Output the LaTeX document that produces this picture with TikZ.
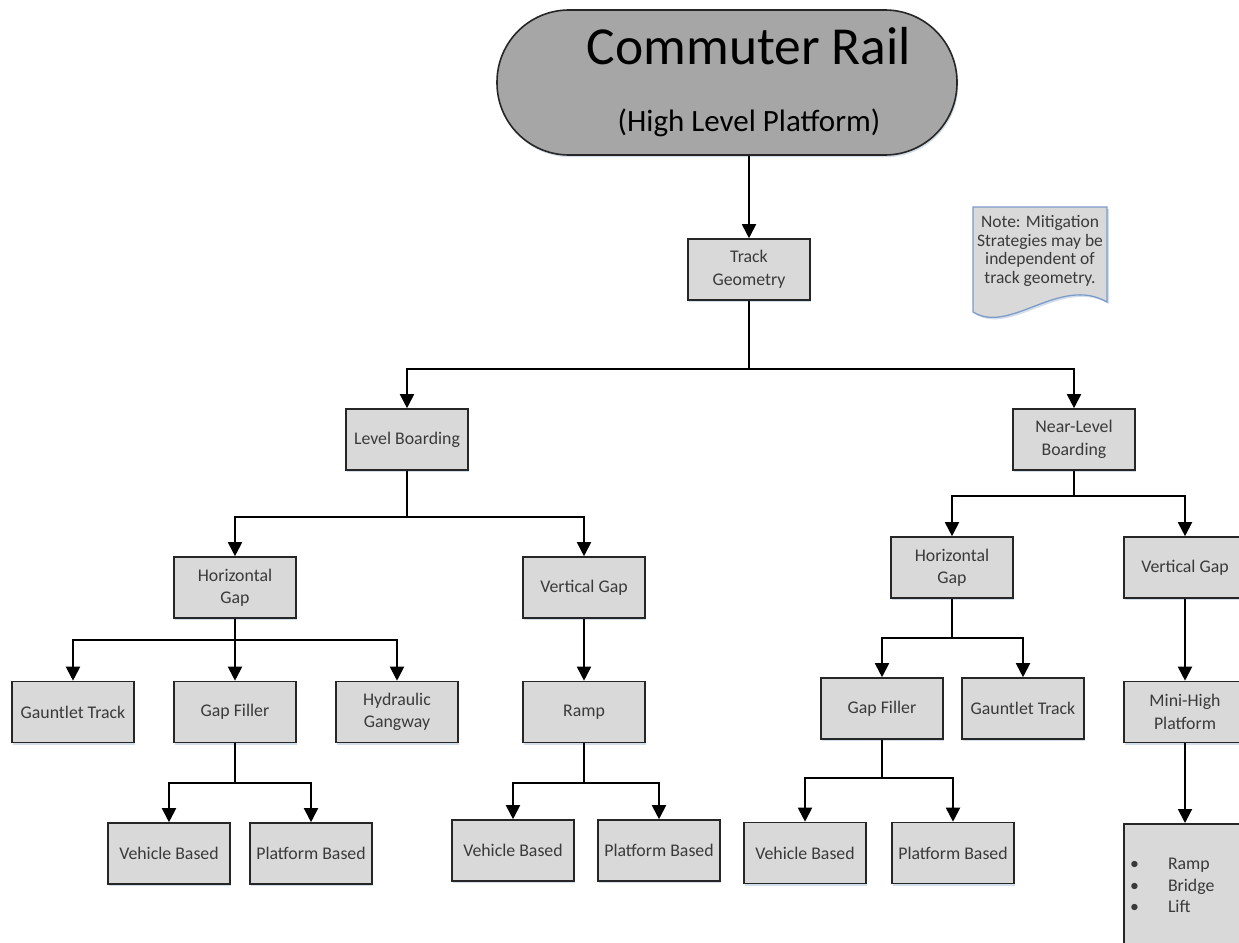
\documentclass[tikz,border=0pt]{standalone}
\usepackage{fontspec}
\setmainfont{Carlito}
\usetikzlibrary{arrows.meta,shadows}
\definecolor{boxfill}{HTML}{D9D9D9}
\definecolor{termfill}{HTML}{A6A6A6}
\definecolor{boxtext}{HTML}{3A3A3A}
\definecolor{noteedge}{HTML}{7E9CC8}
\definecolor{shadowc}{HTML}{C9D6E8}
\begin{document}
\begin{tikzpicture}[x=1pt,y=-1pt,
  box/.style={draw=black!85, line width=1.6pt, fill=boxfill, minimum width=122pt, minimum height=61pt,
    inner sep=2pt, align=center, text=boxtext, font=\fontsize{17.8}{22.5}\selectfont,
    drop shadow={shadow xshift=1.2pt, shadow yshift=-2.2pt, fill=shadowc, opacity=0.8}},
  terminal/.style={draw=black!85, line width=1.6pt, fill=termfill, minimum width=460pt, minimum height=145pt,
    rounded corners=72pt, align=center, text=black,
    drop shadow={shadow xshift=1.2pt, shadow yshift=-2.2pt, fill=shadowc, opacity=0.8}},
  arr/.style={line width=1.9pt, draw=black, -{Triangle[length=14pt,width=14pt]}},
  conn/.style={line width=1.9pt, draw=black},
  notetext/.style={align=center, text=boxtext, font=\fontsize{17.5}{18.6}\selectfont, inner sep=0pt}
]
\useasboundingbox (0,0) rectangle (1239,942);
\fill[white] (0,0) rectangle (1239,942);

% terminal
\node[terminal] (cr) at (727,82.5) {{\fontsize{53.5}{60}\selectfont\hspace*{44pt}Commuter Rail}\\[43pt]{\fontsize{31}{36}\selectfont\hspace*{44pt}(High Level Platform)}};

% note
\fill[shadowc, opacity=0.8] (975,209) -- (1109,209) -- (1109,304) .. controls (1062,277) and (1012,337) .. (975,314) -- cycle;
\draw[noteedge, line width=1.3pt, fill=boxfill] (973,207) -- (1107,207) -- (1107,302) .. controls (1060,275) and (1010,335) .. (973,312) -- cycle;
\node[notetext] (note) at (1040,251) {Note: Mitigation\\Strategies may be\\independent of\\track geometry.};

% boxes
\node[box] (tg) at (749,269.5) {Track\\Geometry};
\node[box] (lb) at (407,439.5) {Level Boarding};
\node[box] (nlb) at (1074,439.5) {Near-Level\\Boarding};
\node[box] (hg1) at (235,587.5) {Horizontal\\Gap};
\node[box] (vg1) at (584,587.5) {Vertical Gap};
\node[box] (hg2) at (952,567.5) {Horizontal\\Gap};
\node[box] (vg2) at (1185,567.5) {Vertical Gap};
\node[box] (gt1) at (73,712) {Gauntlet Track};
\node[box] (gf1) at (235,712) {Gap Filler};
\node[box] (hy) at (397,712) {Hydraulic\\Gangway};
\node[box] (ramp) at (584,712) {Ramp};
\node[box] (gf2) at (882,708.5) {Gap Filler};
\node[box] (gt2) at (1023,708.5) {Gauntlet Track};
\node[box] (mh) at (1185,712) {Mini-High\\Platform};
\node[box] (vb1) at (169,853.5) {Vehicle Based};
\node[box] (pb1) at (311,853.5) {Platform Based};
\node[box] (vb2) at (513,850.5) {Vehicle Based};
\node[box] (pb2) at (659,850.5) {Platform Based};
\node[box] (vb3) at (805,853) {Vehicle Based};
\node[box] (pb3) at (953,853) {Platform Based};
\node[box, anchor=north, minimum height=124pt, text width=110pt, inner xsep=6pt, align=left,
  font=\fontsize{17.8}{21.5}\selectfont] (bl) at (1185,823)
  {\makebox[38pt][l]{\textbullet}Ramp\\\makebox[38pt][l]{\textbullet}Bridge\\\makebox[38pt][l]{\textbullet}Lift};

% junctions
\coordinate (j1) at (749,369);
\coordinate (j2) at (407,517);
\coordinate (j3) at (1074,496);
\coordinate (j4) at (235,640);
\coordinate (j5) at (952,638);
\coordinate (j6) at (235,783);
\coordinate (j7) at (584,783);
\coordinate (j8) at (882,778);

% connectors
\draw[arr] (cr.south -| tg.north) -- (tg.north);
\draw[conn] (tg.south) -- (j1);
\draw[arr] (j1) -| (lb.north);
\draw[arr] (j1) -| (nlb.north);
\draw[conn] (lb.south) -- (j2);
\draw[arr] (j2) -| (hg1.north);
\draw[arr] (j2) -| (vg1.north);
\draw[conn] (nlb.south) -- (j3);
\draw[arr] (j3) -| (hg2.north);
\draw[arr] (j3) -| (vg2.north);
\draw[arr] (hg1.south) -- (gf1.north);
\draw[arr] (j4) -| (gt1.north);
\draw[arr] (j4) -| (hy.north);
\draw[conn] (hg2.south) -- (j5);
\draw[arr] (j5) -| (gf2.north);
\draw[arr] (j5) -| (gt2.north);
\draw[arr] (vg1.south) -- (ramp.north);
\draw[arr] (vg2.south) -- (mh.north);
\draw[arr] (mh.south) -- (bl.north);
\draw[conn] (gf1.south) -- (j6);
\draw[arr] (j6) -| (vb1.north);
\draw[arr] (j6) -| (pb1.north);
\draw[conn] (ramp.south) -- (j7);
\draw[arr] (j7) -| (vb2.north);
\draw[arr] (j7) -| (pb2.north);
\draw[conn] (gf2.south) -- (j8);
\draw[arr] (j8) -| (vb3.north);
\draw[arr] (j8) -| (pb3.north);
\end{tikzpicture}
\end{document}
